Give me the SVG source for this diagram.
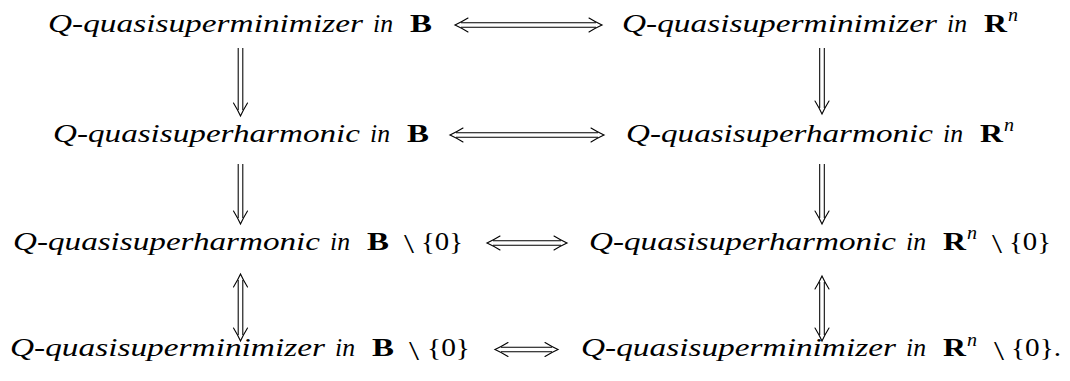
<svg xmlns="http://www.w3.org/2000/svg" xmlns:xlink="http://www.w3.org/1999/xlink" width="1070" height="381" viewBox="0 0 1070 381">
<style>
text{font-family:"Liberation Serif","Times New Roman",serif;font-size:25.5px;fill:#000}
.it{font-style:italic}
.bf{font-weight:bold;font-style:normal}
.rm{font-style:normal}
.sm{font-style:normal;font-size:28px}
.sup{font-style:italic;font-size:18px}
.shaft{stroke:#000;stroke-width:1.05;fill:none}
.head{stroke:#000;stroke-width:1.1;fill:none;stroke-linecap:round}
</style>
<defs>
<path id="hd" class="head" d="M-7,-13 Q-2.6,-5.8 0,0 Q2.6,-5.8 7,-13"/>
</defs>
<rect width="1070" height="381" fill="#fff"/>

<g id="n-min-B">
<text y="31.5"><tspan class="it" x="48" textLength="315" lengthAdjust="spacingAndGlyphs">Q-quasisuperminimizer</tspan> <tspan class="it" x="373" textLength="20" lengthAdjust="spacingAndGlyphs">in</tspan> <tspan class="bf" x="410" textLength="22" lengthAdjust="spacingAndGlyphs">B</tspan></text>
</g>
<g id="n-min-Rn">
<text y="31.5"><tspan class="it" x="622" textLength="315" lengthAdjust="spacingAndGlyphs">Q-quasisuperminimizer</tspan> <tspan class="it" x="947" textLength="20" lengthAdjust="spacingAndGlyphs">in</tspan> <tspan class="bf" x="984" textLength="23" lengthAdjust="spacingAndGlyphs">R</tspan><tspan class="sup" x="1008" y="21" textLength="10" lengthAdjust="spacingAndGlyphs">n</tspan></text>
</g>
<g id="n-harm-B">
<text y="141.5"><tspan class="it" x="53" textLength="307" lengthAdjust="spacingAndGlyphs">Q-quasisuperharmonic</tspan> <tspan class="it" x="370" textLength="20" lengthAdjust="spacingAndGlyphs">in</tspan> <tspan class="bf" x="407" textLength="22" lengthAdjust="spacingAndGlyphs">B</tspan></text>
</g>
<g id="n-harm-Rn">
<text y="141.5"><tspan class="it" x="626" textLength="307" lengthAdjust="spacingAndGlyphs">Q-quasisuperharmonic</tspan> <tspan class="it" x="943" textLength="20" lengthAdjust="spacingAndGlyphs">in</tspan> <tspan class="bf" x="980" textLength="23" lengthAdjust="spacingAndGlyphs">R</tspan><tspan class="sup" x="1004" y="131" textLength="10" lengthAdjust="spacingAndGlyphs">n</tspan></text>
</g>
<g id="n-harm-B0">
<text y="249.5"><tspan class="it" x="13" textLength="307" lengthAdjust="spacingAndGlyphs">Q-quasisuperharmonic</tspan> <tspan class="it" x="330" textLength="20" lengthAdjust="spacingAndGlyphs">in</tspan> <tspan class="bf" x="367" textLength="22" lengthAdjust="spacingAndGlyphs">B</tspan> <tspan class="sm" x="404" y="253" textLength="10" lengthAdjust="spacingAndGlyphs">\</tspan> <tspan class="rm" x="421" y="249.5" textLength="42" lengthAdjust="spacingAndGlyphs">{0}</tspan></text>
</g>
<g id="n-harm-Rn0">
<text y="249.5"><tspan class="it" x="589" textLength="307" lengthAdjust="spacingAndGlyphs">Q-quasisuperharmonic</tspan> <tspan class="it" x="906" textLength="20" lengthAdjust="spacingAndGlyphs">in</tspan> <tspan class="bf" x="943" textLength="23" lengthAdjust="spacingAndGlyphs">R</tspan><tspan class="sup" x="967" y="239" textLength="10" lengthAdjust="spacingAndGlyphs">n</tspan> <tspan class="sm" x="992" y="253" textLength="10" lengthAdjust="spacingAndGlyphs">\</tspan> <tspan class="rm" x="1009" y="249.5" textLength="42" lengthAdjust="spacingAndGlyphs">{0}</tspan></text>
</g>
<g id="n-min-B0">
<text y="356"><tspan class="it" x="10" textLength="315" lengthAdjust="spacingAndGlyphs">Q-quasisuperminimizer</tspan> <tspan class="it" x="335" textLength="20" lengthAdjust="spacingAndGlyphs">in</tspan> <tspan class="bf" x="372" textLength="22" lengthAdjust="spacingAndGlyphs">B</tspan> <tspan class="sm" x="409" y="359.5" textLength="10" lengthAdjust="spacingAndGlyphs">\</tspan> <tspan class="rm" x="427" y="356" textLength="43" lengthAdjust="spacingAndGlyphs">{0}</tspan></text>
</g>
<g id="n-min-Rn0">
<text y="356"><tspan class="it" x="581" textLength="315" lengthAdjust="spacingAndGlyphs">Q-quasisuperminimizer</tspan> <tspan class="it" x="906" textLength="20" lengthAdjust="spacingAndGlyphs">in</tspan> <tspan class="bf" x="943" textLength="23" lengthAdjust="spacingAndGlyphs">R</tspan><tspan class="sup" x="967" y="345.5" textLength="10" lengthAdjust="spacingAndGlyphs">n</tspan> <tspan class="sm" x="994" y="359.5" textLength="10" lengthAdjust="spacingAndGlyphs">\</tspan> <tspan class="rm" x="1011" y="356" textLength="50" lengthAdjust="spacingAndGlyphs">{0}.</tspan></text>
</g>

<g id="connectors">
<g id="c-r1">
<path class="shaft" d="M461,22.7H596M461,27.3H596"/>
<use xlink:href="#hd" href="#hd" transform="translate(455,25) rotate(90)"/>
<use xlink:href="#hd" href="#hd" transform="translate(602,25) rotate(-90)"/>
</g>
<g id="c-r2">
<path class="shaft" d="M456,132.7H598M456,137.3H598"/>
<use xlink:href="#hd" href="#hd" transform="translate(450,135) rotate(90)"/>
<use xlink:href="#hd" href="#hd" transform="translate(604,135) rotate(-90)"/>
</g>
<g id="c-r3">
<path class="shaft" d="M493,240.7H561M493,245.3H561"/>
<use xlink:href="#hd" href="#hd" transform="translate(487,243) rotate(90)"/>
<use xlink:href="#hd" href="#hd" transform="translate(567,243) rotate(-90)"/>
</g>
<g id="c-r4">
<path class="shaft" d="M501,347.2H552M501,351.8H552"/>
<use xlink:href="#hd" href="#hd" transform="translate(495,349.5) rotate(90)"/>
<use xlink:href="#hd" href="#hd" transform="translate(558,349.5) rotate(-90)"/>
</g>
<g id="c-l1">
<path class="shaft" d="M238.2,48V110M242.8,48V110"/>
<use xlink:href="#hd" href="#hd" transform="translate(240.5,116)"/>
</g>
<g id="c-l2">
<path class="shaft" d="M238.2,164V218M242.8,164V218"/>
<use xlink:href="#hd" href="#hd" transform="translate(240.5,224)"/>
</g>
<g id="c-l3">
<path class="shaft" d="M238.2,280V335M242.8,280V335"/>
<use xlink:href="#hd" href="#hd" transform="translate(240.5,274) rotate(180)"/>
<use xlink:href="#hd" href="#hd" transform="translate(240.5,341)"/>
</g>
<g id="c-rt1">
<path class="shaft" d="M819.7,48V108M824.3,48V108"/>
<use xlink:href="#hd" href="#hd" transform="translate(822,114)"/>
</g>
<g id="c-rt2">
<path class="shaft" d="M819.7,164V218M824.3,164V218"/>
<use xlink:href="#hd" href="#hd" transform="translate(822,224)"/>
</g>
<g id="c-rt3">
<path class="shaft" d="M819.7,282V335M824.3,282V335"/>
<use xlink:href="#hd" href="#hd" transform="translate(822,276) rotate(180)"/>
<use xlink:href="#hd" href="#hd" transform="translate(822,341)"/>
</g>
</g>
</svg>
